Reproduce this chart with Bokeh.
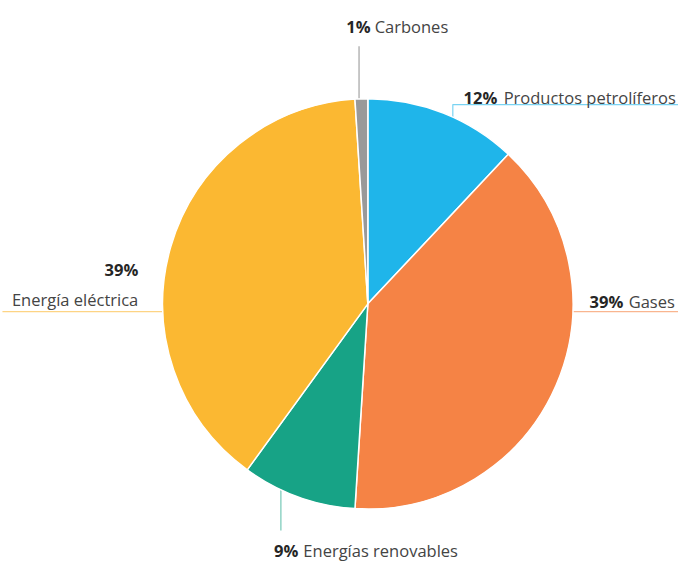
import math
from bokeh.plotting import figure
from bokeh.models import Range1d
from bokeh.core.properties import value
from bokeh.embed import file_html
from bokeh.resources import INLINE

# ---- data ----
categories = ["Productos petrolíferos", "Gases", "Energías renovables", "Energía eléctrica", "Carbones"]
values = [12, 39, 9, 39, 1]
colors = ["#1FB5EA", "#F58345", "#17A386", "#FBB832", "#999999"]

# data coordinates follow the reference picture (0..694 x 0..577, y measured from top)
W, H = 694, 577
def Y(y):
    return H - y

p = figure(width=678, height=561, output_backend="svg", toolbar_location=None,
           x_range=Range1d(0, W), y_range=Range1d(0, H),
           min_border=0, outline_line_color=None, background_fill_color="white")
p.axis.visible = False
p.grid.visible = False

cx, cy, r = 376, 312, 210

# leader lines (drawn under the pie)
leaders = {
    "Carbones": ([367, 367], [47, 104]),
    "Productos petrolíferos": ([463, 463, 700], [122, 107, 107]),
    "Gases": ([580, 700], [320, 320]),
    "Energía eléctrica": ([2, 172], [320, 320]),
    "Energías renovables": ([287, 287], [500, 545]),
}
for cat, col in zip(categories, colors):
    xs, ys = leaders[cat]
    p.line(xs, [Y(v) for v in ys], line_color=col, line_width=1.2,
           line_alpha=0.6 if cat != "Carbones" else 0.9)

# pie wedges, clockwise from 12 o'clock
total = sum(values)
starts, ends = [], []
cum = 0
for v in values:
    starts.append(math.pi / 2 - cum / total * 2 * math.pi)
    cum += v
    ends.append(math.pi / 2 - cum / total * 2 * math.pi)

p.wedge(x=[cx] * len(values), y=[Y(cy)] * len(values), radius=r,
        start_angle=starts, end_angle=ends, direction="clock",
        fill_color=colors, line_color="white", line_width=1.5)

# labels
font = value("Open Sans")
pct = [f"{v}%" for v in values]
# (pct_x, pct_baseline_y, pct_align, label_x, label_baseline_y, label_align)
label_pos = {
    "Productos petrolíferos": (474, 100, "left", 515, 100, "left"),
    "Gases": (603, 310, "left", 643, 310, "left"),
    "Energías renovables": (280, 566, "left", 310, 566, "left"),
    "Energía eléctrica": (141, 277, "right", 141, 308, "right"),
    "Carbones": (354, 27, "left", 383, 27, "left"),
}
for cat, pc in zip(categories, pct):
    px, py, pa, lx, ly, la = label_pos[cat]
    p.text(x=[px], y=[Y(py)], text=[pc], text_font=font, text_font_size="16.5px",
           text_font_style="bold", text_color="#262626", text_align=pa, text_baseline="alphabetic")
    p.text(x=[lx], y=[Y(ly)], text=[cat], text_font=font, text_font_size="16.5px",
           text_color="#444444", text_align=la, text_baseline="alphabetic")

open("out.html", "w").write(file_html(p, INLINE))
